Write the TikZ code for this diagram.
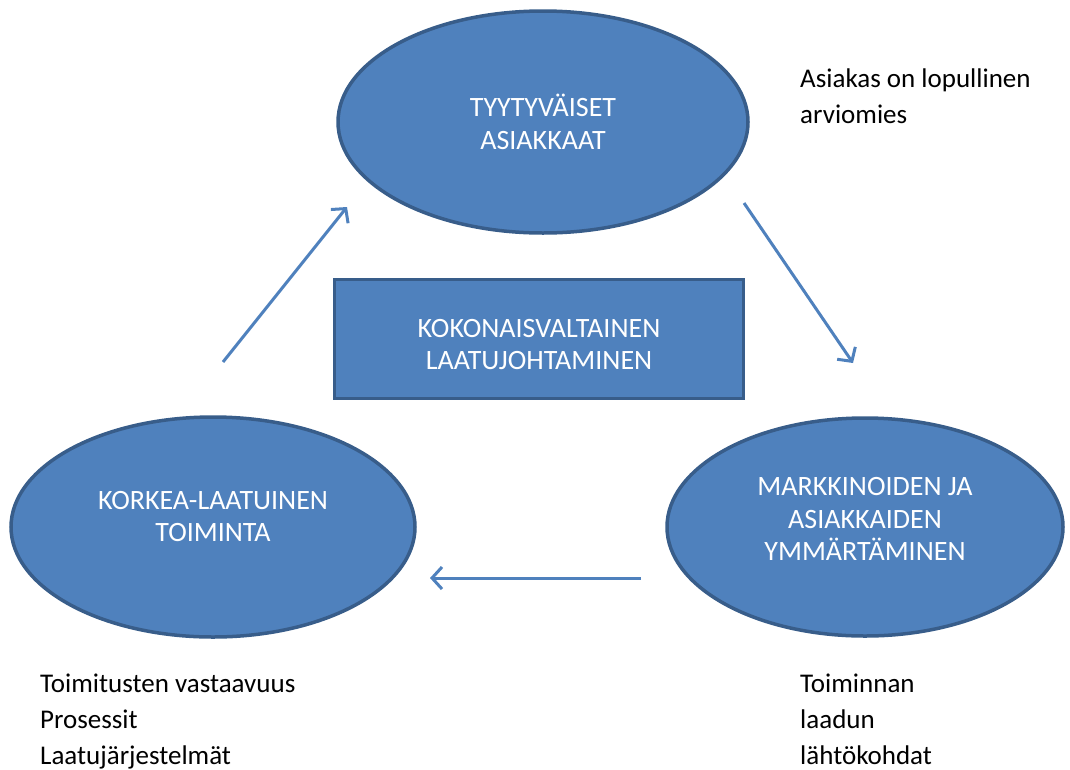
\documentclass[tikz,border=0pt]{standalone}
\usepackage{fontspec}
\setmainfont{Carlito}
\usetikzlibrary{arrows.meta,shapes.geometric}
\usetikzlibrary{positioning}
\definecolor{laatufill}{HTML}{4F81BD}
\definecolor{laatuedge}{HTML}{385D8A}
\tikzset{
    tavoite/.style={
           ellipse,
           fill=laatufill,
           draw=laatuedge, line width=3.5pt,
           inner sep=0pt,
           text=white,
           align=center,
           font=\fontsize{28}{32.5}\selectfont,
           },
    keskus/.style={
           rectangle,
           fill=laatufill,
           draw=laatuedge, line width=3.5pt,
           text=white,
           align=center,
           font=\fontsize{28}{32}\selectfont,
           },
    huomio/.style={
           anchor=base west,
           inner sep=0pt,
           align=left,
           font=\fontsize{27}{36}\selectfont,
           },
    nuoli/.style={
           draw=laatufill, line width=3pt,
           -{Straight Barb[length=10pt,width=22pt,line width=3pt]},
           },
}

\begin{document}
\begin{tikzpicture}[x=1pt, y=-1pt]
\useasboundingbox (0,0) rectangle (1070,769);
\node[tavoite, minimum width=410pt, minimum height=222pt] (tyyt) at (543,122) {TYYTYVÄISET\\ASIAKKAAT};
\node[tavoite, minimum width=404pt, minimum height=220pt] (kork) at (213,527) {KORKEA-LAATUINEN\\TOIMINTA\rule[-21pt]{0pt}{1pt}};
\node[tavoite, minimum width=396pt, minimum height=218pt] (mark) at (865,527) {MARKKINOIDEN JA\\ASIAKKAIDEN\\YMMÄRTÄMINEN\rule[-16pt]{0pt}{1pt}};
\node[keskus, minimum width=409pt, minimum height=119pt] (kokon) at (539,339) {\rule{0pt}{30pt}KOKONAISVALTAINEN\\LAATUJOHTAMINEN};
% nuolet
\coordinate (n1a) at (223,362);
\coordinate (n1b) at (347,207);
\coordinate (n2a) at (744,203);
\coordinate (n2b) at (853,363);
\coordinate (n3a) at (641,578);
\coordinate (n3b) at (430,578);
\draw[nuoli] (n1a) -- (n1b);
\draw[nuoli] (n2a) -- (n2b);
\draw[nuoli] (n3a) -- (n3b);
% tekstit
\node[huomio] (asiakas) at (800,123) {Asiakas on lopullinen\\arviomies};
\node[huomio] (toimit) at (40,764) {Toimitusten vastaavuus\\Prosessit\\Laatujärjestelmät};
\node[huomio] (lahto) at (800,764) {Toiminnan\\laadun\\lähtökohdat};
\end{tikzpicture}
\end{document}
